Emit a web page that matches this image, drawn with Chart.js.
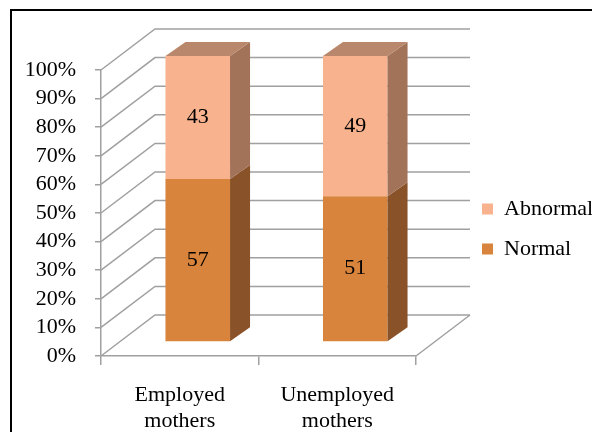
<!DOCTYPE html>
<html>
<head>
<meta charset="utf-8">
<script src="https://cdn.jsdelivr.net/npm/chart.js@4.4.1/dist/chart.umd.min.js"></script>
<style>
  html, body { margin: 0; padding: 0; background: #fff; overflow: hidden; }
  #frame { position: absolute; left: 10px; top: 9px; width: 700px; height: 600px; border: 2px solid #000; }
  #wrap { position: absolute; left: 0; top: 0; width: 592px; height: 432px; }
</style>
</head>
<body>
<div id="frame"></div>
<div id="wrap"><canvas id="chart" width="592" height="432"></canvas></div>
<script>
// data
const categories = [['Employed', 'mothers'], ['Unemployed', 'mothers']];
const seriesNames = ['Normal', 'Abnormal'];
const normalValues = [57, 51];
const abnormalValues = [43, 49];
const yMin = 0, yMax = 100, yStep = 10;

const FONT = 'Liberation Serif';
const FONT_SIZE = 22;
const frontColours = ['#D9843C', '#F8B38E'];
const sideColours = ['#8A5228', '#A27259'];
const topColours = ['#B07040', '#B9876B'];
const gridColour = '#A0A0A0';

// 3d look: depth of the walls and of the bars
const wall = { dx: 54, dy: -41 };
const barShift = { dx: 18, dy: -14 };
const barDepth = { dx: 20, dy: -14 };

const threeD = {
    id: 'threeD',
    beforeDatasetsDraw(chart) {
        const ctx = chart.ctx;
        const a = chart.chartArea;
        const ys = chart.scales.y;
        ctx.save();
        ctx.strokeStyle = gridColour;
        ctx.lineWidth = 1.5;
        ys.ticks.forEach(t => {
            let y = ys.getPixelForValue(t.value);
            ctx.beginPath();
            ctx.moveTo(a.left, y);
            ctx.lineTo(a.left + wall.dx, y + wall.dy);
            ctx.lineTo(a.right + wall.dx, y + wall.dy);
            ctx.stroke();
        });
        // right edge of the floor
        ctx.beginPath();
        ctx.moveTo(a.right, a.bottom);
        ctx.lineTo(a.right + wall.dx, a.bottom + wall.dy);
        ctx.stroke();
        ctx.restore();

        // bars are drawn pushed back into the box
        ctx.save();
        ctx.translate(barShift.dx, barShift.dy);
    },
    afterDatasetsDraw(chart) {
        const ctx = chart.ctx;
        ctx.restore();
        const last = chart.data.datasets.length - 1;
        chart.data.datasets.forEach((ds, di) => {
            let meta = chart.getDatasetMeta(di);
            meta.data.forEach(bar => {
                let left = bar.x - bar.width / 2 + barShift.dx;
                let right = bar.x + bar.width / 2 + barShift.dx;
                let top = bar.y + barShift.dy;
                let bottom = bar.base + barShift.dy;
                ctx.fillStyle = sideColours[di];
                ctx.beginPath();
                ctx.moveTo(right, top);
                ctx.lineTo(right + barDepth.dx, top + barDepth.dy);
                ctx.lineTo(right + barDepth.dx, bottom + barDepth.dy);
                ctx.lineTo(right, bottom);
                ctx.closePath();
                ctx.fill();
                if (di === last) {
                    ctx.fillStyle = topColours[di];
                    ctx.beginPath();
                    ctx.moveTo(left, top);
                    ctx.lineTo(left + barDepth.dx, top + barDepth.dy);
                    ctx.lineTo(right + barDepth.dx, top + barDepth.dy);
                    ctx.lineTo(right, top);
                    ctx.closePath();
                    ctx.fill();
                }
            });
        });
        // value labels in the middle of each front face
        ctx.save();
        ctx.font = FONT_SIZE + 'px "' + FONT + '"';
        ctx.fillStyle = '#000';
        ctx.textAlign = 'center';
        ctx.textBaseline = 'middle';
        chart.data.datasets.forEach((ds, di) => {
            chart.getDatasetMeta(di).data.forEach((bar, i) => {
                ctx.fillText(String(ds.data[i]), bar.x + barShift.dx, (bar.y + bar.base) / 2 + barShift.dy);
            });
        });
        ctx.restore();
    }
};

const datasets = [normalValues, abnormalValues].map((vals, i) => ({
    label: seriesNames[i],
    data: vals,
    backgroundColor: frontColours[i],
    borderWidth: 0,
    categoryPercentage: 1,
    barPercentage: 0.41,
    clip: false,
    yAxisID: 'y'
}));

new Chart(document.getElementById('chart'), {
    type: 'bar',
    data: { labels: categories, datasets: datasets },
    plugins: [threeD],
    options: {
        responsive: false,
        animation: false,
        events: [],
        layout: { padding: { left: 0, top: 70, right: 0, bottom: 0 } },
        scales: {
            x: {
                stacked: true,
                offset: true,
                grid: { display: true, offset: true, drawOnChartArea: false, drawTicks: true, tickLength: 9, color: gridColour, lineWidth: 1.5 },
                border: { display: true, color: gridColour, width: 1.5 },
                ticks: { color: '#000', font: { family: FONT, size: FONT_SIZE, lineHeight: 1.2 }, padding: 17, maxRotation: 0 },
                afterFit(s) { s.height = 76; }
            },
            y: {
                stacked: true,
                min: yMin,
                max: yMax,
                grid: { display: true, drawOnChartArea: false, drawTicks: true, tickLength: 6, color: gridColour, lineWidth: 1.5 },
                border: { display: true, color: gridColour, width: 1.5 },
                ticks: {
                    stepSize: yStep,
                    autoSkip: false,
                    color: '#000',
                    padding: 19,
                    font: { family: FONT, size: FONT_SIZE },
                    callback: v => v + '%'
                },
                afterFit(s) { s.width = 101; }
            },
            y2: {
                position: 'right',
                display: true,
                grid: { display: false },
                border: { display: false },
                ticks: { display: false },
                afterFit(s) { s.width = 48; }
            }
        },
        plugins: {
            legend: {
                position: 'right',
                align: 'center',
                fullSize: false,
                reverse: true,
                maxWidth: 128,
                title: { display: true, text: '', font: { size: 10, lineHeight: 1.2 }, padding: 10 },
                labels: {
                    boxWidth: 11,
                    boxHeight: 11,
                    padding: 18,
                    color: '#000',
                    font: { family: FONT, size: FONT_SIZE }
                }
            },
            tooltip: { enabled: false }
        }
    }
});
</script>
</body>
</html>
